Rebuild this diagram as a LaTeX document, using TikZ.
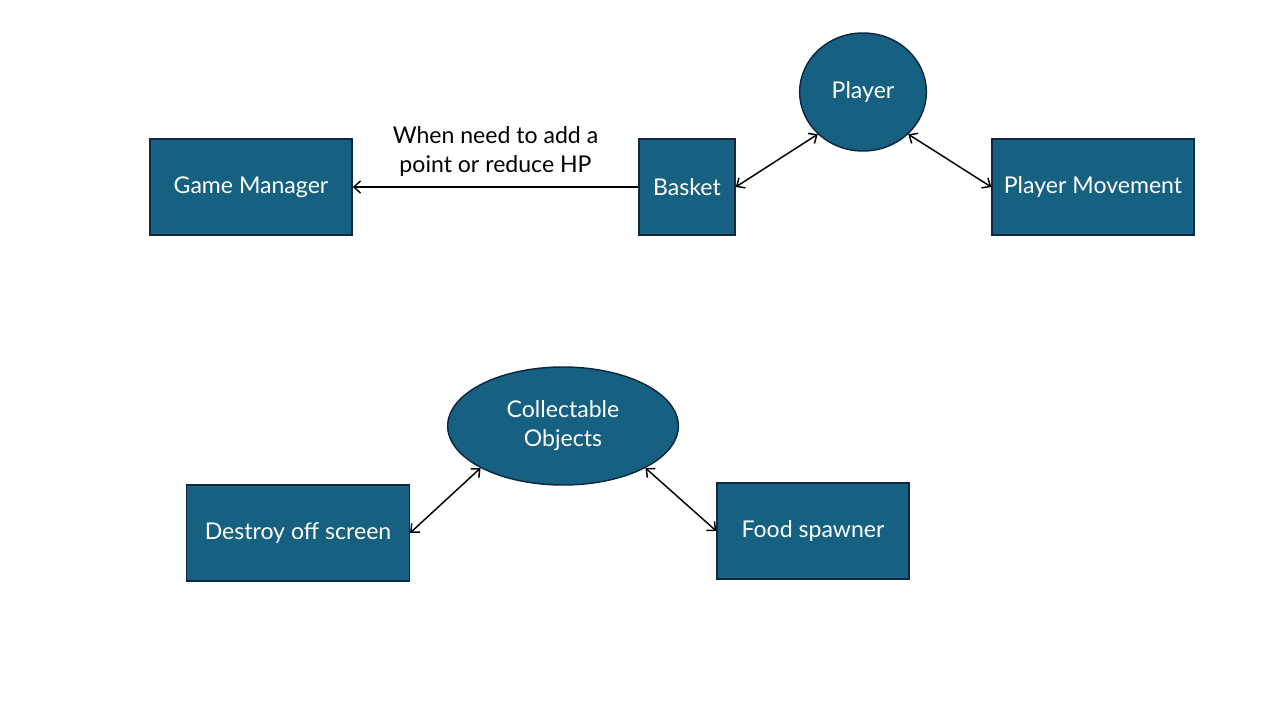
\documentclass[tikz,border=0pt]{standalone}
\usepackage{fontspec}
\setmainfont{Lato}
\usepackage{tikz}
\usetikzlibrary{shapes,arrows.meta,positioning,calc}
\definecolor{boxblue}{RGB}{22, 96, 130}
\definecolor{boxedge}{RGB}{14, 40, 65}

\tikzset{
    block/.style={draw=boxedge,line width=1.1pt,fill=boxblue,text=white,font=\fontsize{17.3}{21.75}\selectfont,minimum height=72pt,inner sep=2pt},
    blob/.style={ellipse,draw=boxedge,line width=1.1pt,fill=boxblue,text=white,font=\fontsize{17.3}{21.75}\selectfont,align=center,inner sep=0pt},
    link/.style={line width=1.1pt,{Straight Barb[length=5pt,width=9pt]}-{Straight Barb[length=5pt,width=9pt]}},
    oneway/.style={line width=1.1pt,-{Straight Barb[length=5pt,width=9pt]}}
}

\begin{document}
\begin{tikzpicture}[x=0.75pt,y=-0.75pt]
    \useasboundingbox (0,0) rectangle (1280,720);

    % top row
    \node[block,minimum width=151.5pt] (manager) at (251,187) {Game Manager};
    \node[block,minimum width=72pt] (basket) at (687,187) {Basket};
    \node[blob,minimum width=95pt,minimum height=88.5pt] (player) at (863,92) {Player};
    \node[block,minimum width=151.5pt] (movement) at (1093,187) {Player Movement};

    % bottom row
    \node[blob,minimum width=173pt,minimum height=88.5pt] (collect) at (563,426) {Collectable\\Objects};
    \node[block,minimum width=167pt] (destroy) at (298,533) {Destroy off screen};
    \node[block,minimum width=144pt] (spawner) at (813,531) {Food spawner};

    % connectors
    \draw[oneway] (basket.west) -- (manager.east)
        node[midway,above=4pt,align=center,font=\fontsize{17.3}{21.75}\selectfont] {When need to add a\\point or reduce HP};
    \draw[link] (basket.east) -- (player.223);
    \draw[link] (player.317) -- (movement.west);
    \draw[link] (collect.207) -- (destroy.east);
    \draw[link] (collect.333) -- (spawner.west);
\end{tikzpicture}
\end{document}
